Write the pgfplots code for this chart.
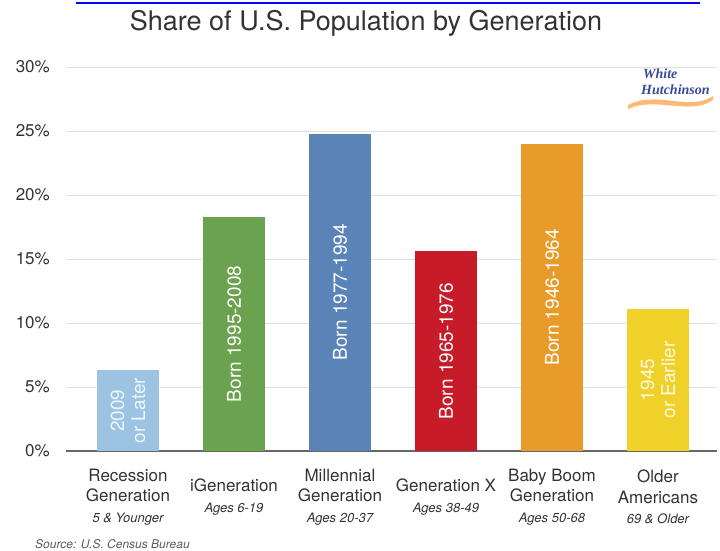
\documentclass[border=0pt]{standalone}
\usepackage{pgfplots}
\pgfplotsset{compat=1.18}
\usepackage{fontspec}
\setmainfont{TeX Gyre Heros}
\newfontfamily\logofont{Liberation Serif}
\definecolor{cRec}{HTML}{9DC3E2}
\definecolor{cIGen}{HTML}{6AA24F}
\definecolor{cMil}{HTML}{5A83B8}
\definecolor{cGenX}{HTML}{C81B2A}
\definecolor{cBoom}{HTML}{E99B2A}
\definecolor{cOld}{HTML}{F0D12A}
\definecolor{txtgray}{HTML}{333333}
\definecolor{logoblue}{HTML}{3A4A9A}
\newcommand\subl[1]{{\fontsize{13}{20}\itshape\selectfont #1}}
\begin{document}
\begin{tikzpicture}[x=1pt,y=1pt]
\path[use as bounding box, fill=white] (0,0) rectangle (720,550);
\draw[blue, line width=1.3pt] (76,547) -- (700,547);
\node[font=\fontsize{27}{32}\selectfont, text=txtgray] at (366,527) {Share of U.S. Population by Generation};
\begin{axis}[
  at={(66pt,99pt)}, anchor=south west,
  scale only axis, width=651pt, height=384pt,
  xmin=-0.585, xmax=5.557, ymin=0, ymax=30,
  ytick={0,5,...,30},
  yticklabel={\pgfmathprintnumber{\tick}\%},
  yticklabel style={font=\fontsize{17}{20}\selectfont, text=txtgray, anchor=east, inner sep=0pt, xshift=-16pt},
  xtick={0,...,5},
  xticklabels={{Recession\\Generation\\\subl{5 \& Younger}},{iGeneration\\\subl{Ages 6-19}},{Millennial\\Generation\\\subl{Ages 20-37}},{Generation X\\\subl{Ages 38-49}},{Baby Boom\\Generation\\\subl{Ages 50-68}},{Older\\Americans\\\subl{69 \& Older}}},
  xticklabel style={font=\fontsize{17}{20.5}\selectfont, text=txtgray, align=center, anchor=center, yshift=-46pt},
  major tick length=0pt,
  axis line style={draw=none},
  ymajorgrids, grid style={black!12, line width=1pt},
  extra y ticks={0}, extra y tick labels={},
  extra y tick style={grid style={black!60, line width=1.2pt}},
  /pgf/number format/assume math mode=true,
  clip=false,
]
\addplot[ybar, bar width=62pt, bar shift=0pt, fill=cRec, draw=none] coordinates {(0,6.3)};
\addplot[ybar, bar width=62pt, bar shift=0pt, fill=cIGen, draw=none] coordinates {(1,18.3)};
\addplot[ybar, bar width=62pt, bar shift=0pt, fill=cMil, draw=none] coordinates {(2,24.8)};
\addplot[ybar, bar width=62pt, bar shift=0pt, fill=cGenX, draw=none] coordinates {(3,15.6)};
\addplot[ybar, bar width=62pt, bar shift=0pt, fill=cBoom, draw=none] coordinates {(4,24.0)};
\addplot[ybar, bar width=62pt, bar shift=0pt, fill=cOld, draw=none] coordinates {(5,11.1)};
\tikzset{blab/.style={rotate=90, text=white, align=center, font=\fontsize{19}{21}\selectfont}}
\node[blab, text=white!85!cRec] at (axis cs:0,3.15) {2009\\or Later};
\node[blab] at (axis cs:1,9.15) {Born 1995-2008};
\node[blab] at (axis cs:2,12.4) {Born 1977-1994};
\node[blab] at (axis cs:3,7.8) {Born 1965-1976};
\node[blab] at (axis cs:4,12.0) {Born 1946-1964};
\node[blab, text=white!85!cOld] at (axis cs:5,5.55) {1945\\or Earlier};
\end{axis}
% logo
\fill[orange!55] (628,445) .. controls (655,460) and (690,438) .. (713,454) -- (713,450) .. controls (690,434) and (655,454) .. (628,441) -- cycle;
\node[anchor=west, inner sep=0pt, text=logoblue, font=\logofont\bfseries\itshape\fontsize{14}{14}\selectfont] at (643,476) {White};
\node[anchor=west, inner sep=0pt, text=logoblue, font=\logofont\bfseries\itshape\fontsize{14}{14}\selectfont] at (641,460) {Hutchinson};
\node[anchor=west, inner sep=0pt, text=txtgray!80, font=\fontsize{12}{14}\itshape\selectfont] at (35,6) {Source: U.S. Census Bureau};
\end{tikzpicture}
\end{document}
